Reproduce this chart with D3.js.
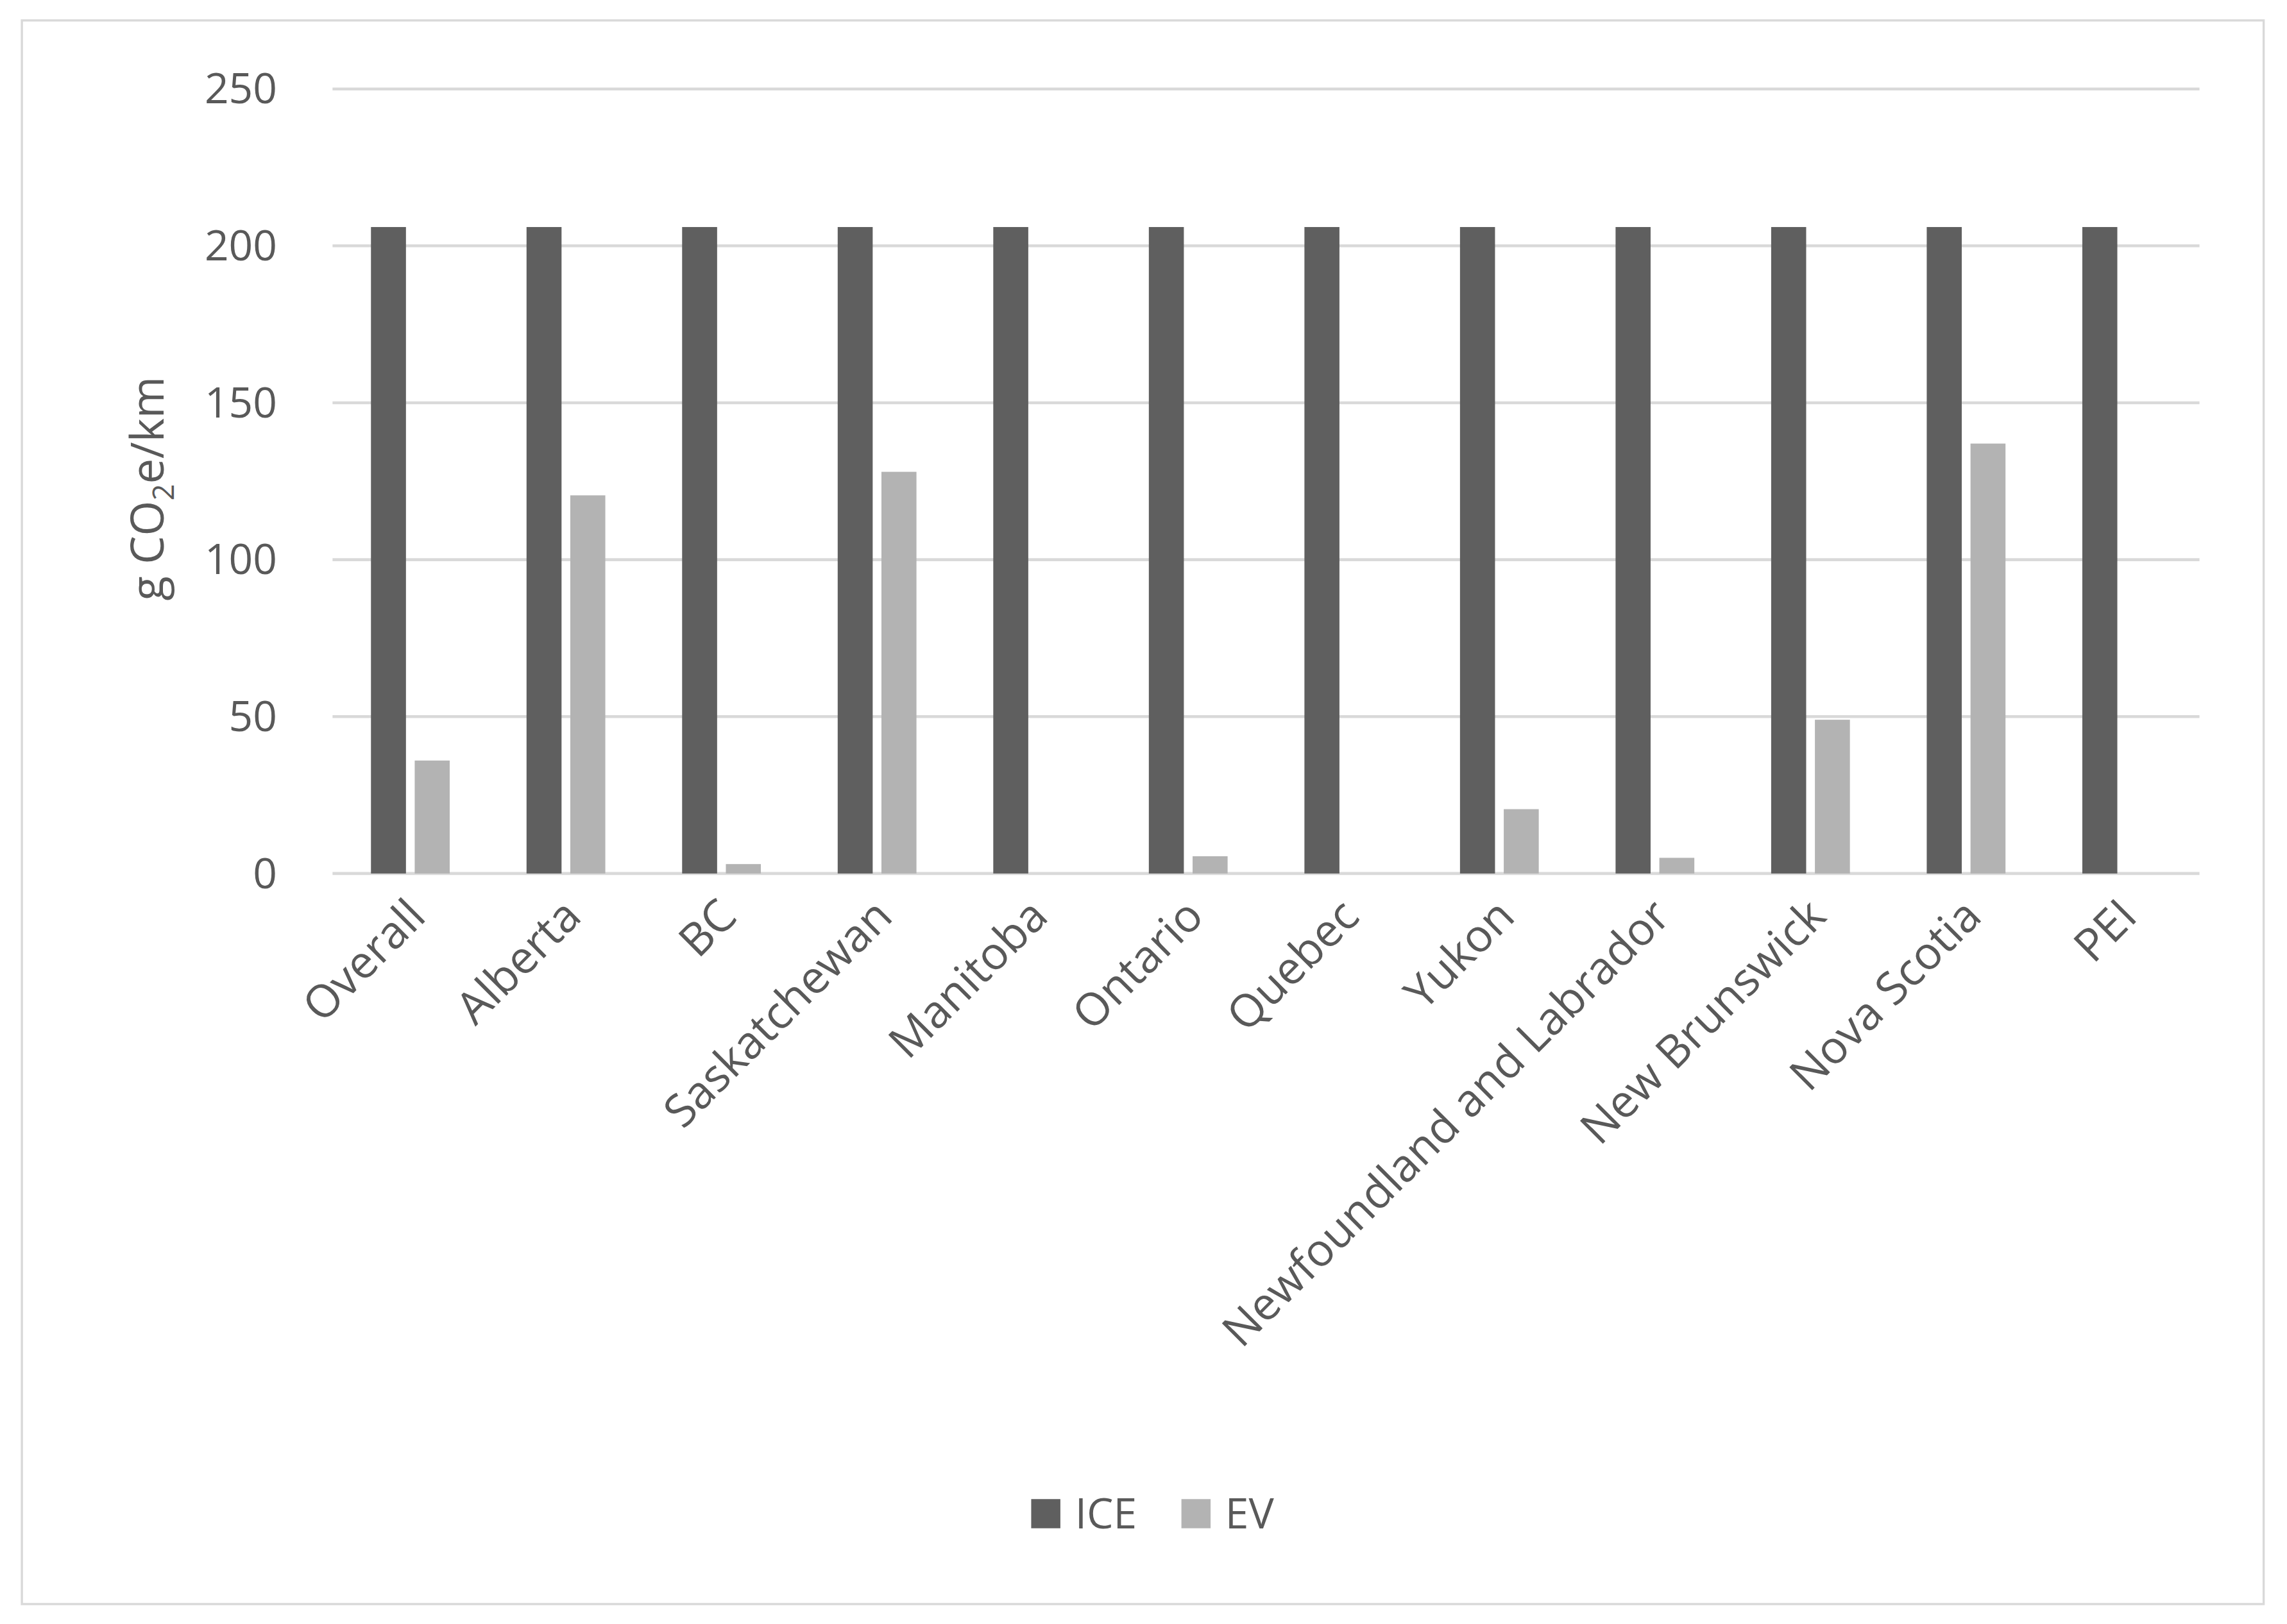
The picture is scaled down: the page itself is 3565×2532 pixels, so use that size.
<html>
<head>
    <script src="https://d3js.org/d3.v7.min.js"></script>
    <style>body{margin:0;background:#fff}</style>
</head>
<body>
    <svg id="chart"></svg>
    <script>
        var categories = ["Overall", "Alberta", "BC", "Saskatchewan", "Manitoba", "Ontario", "Quebec",
            "Yukon", "Newfoundland and Labrador", "New Brunswick", "Nova Scotia", "PEI"];
        var iceValues = [206, 206, 206, 206, 206, 206, 206, 206, 206, 206, 206, 206];
        var evValues = [36, 120.5, 3, 128, 0, 5.5, 0, 20.5, 5, 49, 137, 0];
        var yTicks = [0, 50, 100, 150, 200, 250];
        var seriesNames = ["ICE", "EV"];
        var colors = ["#5f5f5f", "#b3b3b3"];

        var W = 3565, H = 2532, S = W / 1568;
        var svg = d3.select("#chart").attr("width", W).attr("height", H);
        var g = svg.append("g").attr("transform", "scale(" + S + ")");
        var font = "'Open Sans', 'Liberation Sans', sans-serif";

        g.append("rect").attr("x", 15).attr("y", 14).attr("width", 1537).attr("height", 1086)
            .attr("fill", "none").attr("stroke", "#d9d9d9").attr("stroke-width", 1.5);

        var x = d3.scaleBand().domain(categories).range([228, 1508]);
        var y = d3.scaleLinear().domain([0, 250]).range([599, 61]);

        g.selectAll(".grid").data(yTicks).enter().append("line")
            .attr("x1", 228).attr("x2", 1508)
            .attr("y1", function(d){ return y(d); }).attr("y2", function(d){ return y(d); })
            .attr("stroke", "#d9d9d9").attr("stroke-width", 2);

        g.selectAll(".ytick").data(yTicks).enter().append("text")
            .attr("x", 190).attr("y", function(d){ return y(d) + 10; })
            .attr("text-anchor", "end").attr("font-family", font).attr("font-size", 29)
            .attr("fill", "#595959").text(function(d){ return d; });

        var bw = 24, gap = 6;
        [iceValues, evValues].forEach(function(vals, s) {
            g.selectAll(".bar" + s).data(vals).enter().append("rect")
                .attr("x", function(d, i){ return x(categories[i]) + x.bandwidth()/2 - bw - gap/2 + s * (bw + gap); })
                .attr("y", function(d){ return y(d); })
                .attr("width", bw)
                .attr("height", function(d){ return y(0) - y(d); })
                .attr("fill", colors[s]);
        });

        g.selectAll(".xl").data(categories).enter().append("text")
            .attr("transform", function(d){ return "translate(" + (x(d) + x.bandwidth()/2 + 12) + ",630) rotate(-45)"; })
            .attr("text-anchor", "end").attr("font-family", font).attr("font-size", 31)
            .attr("fill", "#595959").text(function(d){ return d; });

        var yl = g.append("text").attr("transform", "translate(112,335) rotate(-90)")
            .attr("text-anchor", "middle").attr("font-family", font).attr("font-size", 31)
            .attr("fill", "#595959");
        yl.append("tspan").text("g CO");
        yl.append("tspan").attr("font-size", 20).attr("dy", 7).text("2");
        yl.append("tspan").attr("dy", -7).text("e/km");

        var lx = [707, 810];
        seriesNames.forEach(function(n, i) {
            g.append("rect").attr("x", lx[i]).attr("y", 1028).attr("width", 20).attr("height", 20).attr("fill", colors[i]);
            g.append("text").attr("x", lx[i] + 30).attr("y", 1048).attr("font-family", font)
                .attr("font-size", 29).attr("fill", "#595959").text(n);
        });
    </script>
</body>
</html>
